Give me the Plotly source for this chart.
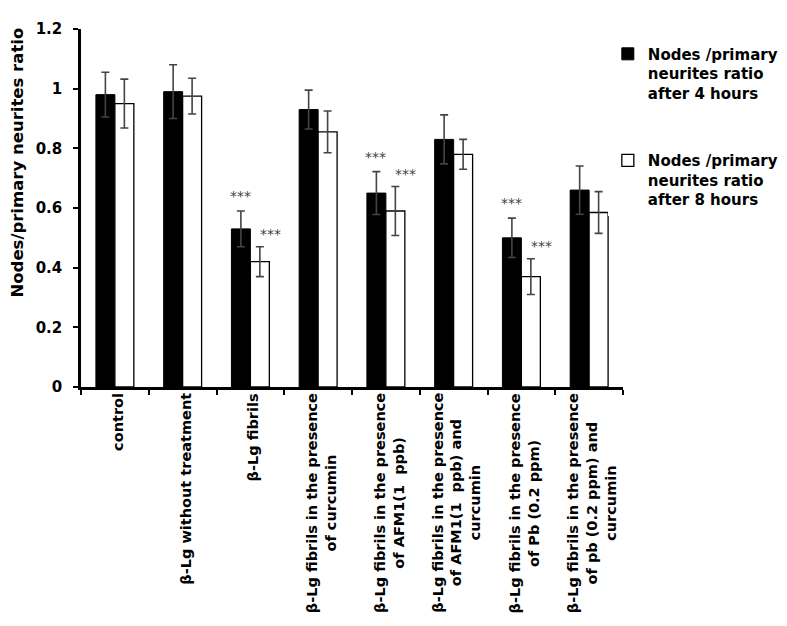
import plotly.graph_objects as go

categories = [
    "control",
    "β-Lg without treatment",
    "β-Lg fibrils",
    "β-Lg fibrils in the presence<br>of curcumin",
    "β-Lg fibrils in the presence<br>of AFM1(1  ppb)",
    "β-Lg fibrils in the presence<br>of AFM1(1  ppb) and<br>curcumin",
    "β-Lg fibrils in the presence<br>of Pb (0.2 ppm)",
    "β-Lg fibrils in the presence<br>of pb (0.2 ppm) and<br>curcumin",
]
vals_4h = [0.98, 0.99, 0.53, 0.93, 0.65, 0.83, 0.50, 0.66]
err_4h = [0.075, 0.09, 0.06, 0.065, 0.072, 0.082, 0.066, 0.081]
vals_8h = [0.95, 0.975, 0.42, 0.855, 0.59, 0.78, 0.37, 0.585]
err_8h = [0.082, 0.06, 0.05, 0.07, 0.082, 0.05, 0.06, 0.07]
sig_4h = ["", "", "***", "", "***", "", "***", ""]
sig_8h = ["", "", "***", "", "***", "", "***", ""]
yticks = [0, 0.2, 0.4, 0.6, 0.8, 1.0, 1.2]
ytick_text = ["0", "0.2", "0.4", "0.6", "0.8", "1", "1.2"]
name_4h = "Nodes /primary<br>neurites ratio<br>after 4 hours"
name_8h = "Nodes /primary<br>neurites ratio<br>after 8 hours"
y_title = "Nodes/primary neurites ratio"

FONT = "DejaVu Sans"

fig = go.Figure()
fig.add_trace(go.Bar(
    x=categories, y=vals_4h, name=name_4h,
    marker=dict(color="black", line=dict(color="black", width=1)),
    error_y=dict(type="data", array=err_4h, color="#444444", thickness=1.6, width=4),
    legendgroup="a",
))
fig.add_trace(go.Bar(
    x=categories, y=vals_8h, name=name_8h,
    marker=dict(color="white", line=dict(color="black", width=1.3)),
    error_y=dict(type="data", array=err_8h, color="#444444", thickness=1.6, width=4),
    legendgroup="b",
))

annotations = []
for i, c in enumerate(categories):
    if sig_4h[i]:
        annotations.append(dict(x=c, y=vals_4h[i] + err_4h[i], xref="x", yref="y",
                                text=sig_4h[i], showarrow=False, yanchor="middle",
                                xshift=-10, yshift=15,
                                font=dict(family=FONT, size=14, color="#444444")))
    if sig_8h[i]:
        annotations.append(dict(x=c, y=vals_8h[i] + err_8h[i], xref="x", yref="y",
                                text=sig_8h[i], showarrow=False, yanchor="middle",
                                xshift=20, yshift=13,
                                font=dict(family=FONT, size=14, color="#444444")))
    # category labels (rotated, centred lines)
    annotations.append(dict(x=c, y=0, xref="x", yref="y", text=c, showarrow=False,
                            textangle=-90, xanchor="center", yanchor="top", align="center",
                            yshift=-4, xshift=3,
                            font=dict(family=FONT, size=14.5, color="black", weight="bold")))

annotations.append(dict(x=-0.118, y=0.627, xref="paper", yref="paper", text=y_title,
                        showarrow=False, textangle=-90, xanchor="center", yanchor="middle",
                        font=dict(family=FONT, size=16.5, color="black", weight="bold")))

fig.update_layout(
    width=787, height=626,
    margin=dict(l=73, r=144, t=12, b=247),
    plot_bgcolor="white", paper_bgcolor="white",
    barmode="group", bargap=0.44, bargroupgap=0,
    font=dict(family=FONT, color="black"),
    annotations=annotations,
    legend=dict(x=0.972, y=0.976, xanchor="left", yanchor="top", valign="top",
                font=dict(family=FONT, size=15, color="black", weight="bold"),
                tracegroupgap=45, traceorder="grouped"),
    xaxis=dict(
        type="category", tickson="boundaries", showticklabels=False,
        showline=True, linecolor="black", linewidth=3,
        ticks="outside", ticklen=5, tickwidth=2, tickcolor="black",
        showgrid=False,
    ),
    yaxis=dict(
        range=[0, 1.2], tickvals=yticks, ticktext=ytick_text,
        showline=True, linecolor="black", linewidth=2.5,
        ticks="outside", ticklen=5, tickwidth=2, tickcolor="black",
        ticklabelstandoff=8,
        tickfont=dict(family=FONT, size=15, color="black", weight="bold"),
        showgrid=False, zeroline=False,
    ),
)

fig.write_html("out.html")
